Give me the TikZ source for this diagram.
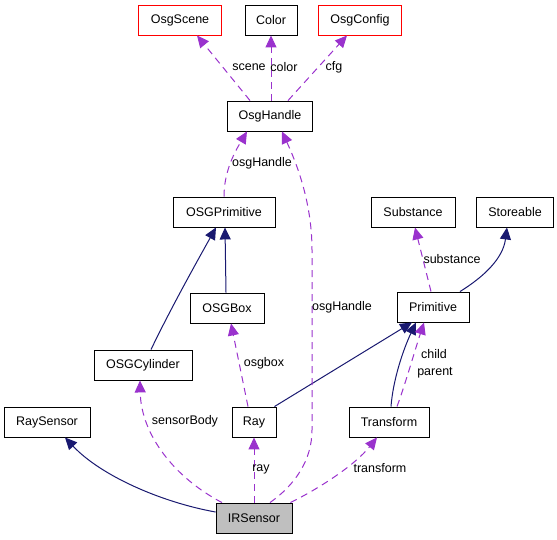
\documentclass[tikz,border=0pt]{standalone}
\usepackage{fontspec}
\setmainfont{Liberation Sans}
\usepackage{tikz}
\usetikzlibrary{arrows.meta,positioning}
\definecolor{usecol}{HTML}{9A32CD}
\definecolor{inhcol}{HTML}{191970}
\definecolor{curcol}{HTML}{BFBFBF}
\tikzset{
  cls/.style={draw=black, line width=0.9pt, fill=white, minimum height=30pt,
    inner sep=0pt, font=\fontsize{12.5}{14}\selectfont},
  extcls/.style={cls, draw=red},
  curcls/.style={cls, fill=curcol},
  lbl/.style={inner sep=0pt, font=\fontsize{12.5}{14}\selectfont},
  inh/.style={draw=inhcol, line width=1pt, -{Triangle[length=12pt,width=11pt]}},
  use/.style={draw=usecol, line width=1pt, dash pattern=on 7pt off 5pt,
    -{Triangle[length=12pt,width=11pt]}},
}
\begin{document}
\begin{tikzpicture}[x=1pt,y=-1pt]
    \useasboundingbox (0,0) rectangle (557,539);

    % classes
    \node[extcls, minimum width=83] (scene) at (180,20) {OsgScene};
    \node[cls, minimum width=52] (color) at (271,20) {Color};
    \node[extcls, minimum width=83] (config) at (360,20) {OsgConfig};
    \node[cls, minimum width=85] (handle) at (270,116) {OsgHandle};
    \node[cls, minimum width=102] (osgprim) at (224,212) {OSGPrimitive};
    \node[cls, minimum width=84] (substance) at (413,212) {Substance};
    \node[cls, minimum width=77] (storeable) at (515,212) {Storeable};
    \node[cls, minimum width=74] (osgbox) at (227,308) {OSGBox};
    \node[cls, minimum width=72] (primitive) at (433,307) {Primitive};
    \node[cls, minimum width=98] (cylinder) at (143,365) {OSGCylinder};
    \node[cls, minimum width=86] (raysensor) at (47,422) {RaySensor};
    \node[cls, minimum width=44] (ray) at (254,422) {Ray};
    \node[cls, minimum width=80] (transform) at (389,422) {Transform};
    \node[curcls, minimum width=76] (irsensor) at (254,518) {IRSensor};

    % inheritance
    \draw[inh] ([xshift=-1]osgbox.north) -- ([xshift=1]osgprim.south);
    \draw[inh] ([xshift=8]cylinder.north) .. controls (170,310) and (195,265) .. ([xshift=-8]osgprim.south);
    \draw[inh] ([xshift=-2]ray.north east) -- ([xshift=-21]primitive.south);
    \draw[inh] ([xshift=2]transform.north) .. controls (393,380) and (403,350) .. ([xshift=-17]primitive.south);
    \draw[inh] ([xshift=27]primitive.north) .. controls (485,276) and (503,258) .. ([xshift=-8]storeable.south);
    \draw[inh] ([yshift=6]irsensor.west) .. controls (160,502) and (100,475) .. ([xshift=18]raysensor.south);

    % usage
    \draw[use] ([xshift=-20]handle.north) -- ([xshift=17]scene.south);
    \draw[use] ([xshift=1]handle.north) -- (color.south);
    \draw[use] ([xshift=18]handle.north) -- ([xshift=-13]config.south);
    \draw[use] (osgprim.north) .. controls (224,170) and (236,150) .. ([xshift=-23]handle.south);
    \draw[use] ([xshift=-6]ray.north) -- ([xshift=4]osgbox.south);
    \draw[use] ([xshift=-2]primitive.north) -- ([xshift=2]substance.south);
    \draw[use] ([xshift=8]transform.north) .. controls (405,385) and (415,350) .. ([xshift=-9]primitive.south);
    \draw[use] ([xshift=-32]irsensor.north) .. controls (175,478) and (141,435) .. ([xshift=-3]cylinder.south);
    \draw[use] (irsensor.north) -- (ray.south);
    \draw[use] ([xshift=16]irsensor.north) .. controls (295,485) and (312,460) .. (312,430)
        -- (312,250) .. controls (312,200) and (295,160) .. ([xshift=12]handle.south);
    \draw[use] ([xshift=-2]irsensor.north east) .. controls (320,488) and (355,465) .. ([xshift=-12]transform.south);

    % labels
    \node[lbl] (lscene) at (249,67) {scene};
    \node[lbl] (lcolor) at (284,67) {color};
    \node[lbl] (lcfg) at (334,67) {cfg};
    \node[lbl] (lhandle) at (262,163) {osgHandle};
    \node[lbl] (lhandle2) at (342,307) {osgHandle};
    \node[lbl] (lsubst) at (452,259) {substance};
    \node[lbl] (lbox) at (264,363) {osgbox};
    \node[lbl] (lchild) at (434,354) {child};
    \node[lbl] (lparent) at (435,373) {parent};
    \node[lbl] (lbody) at (185,421) {sensorBody};
    \node[lbl] (lray) at (261,469) {ray};
    \node[lbl] (ltrans) at (380,468) {transform};
\end{tikzpicture}
\end{document}
